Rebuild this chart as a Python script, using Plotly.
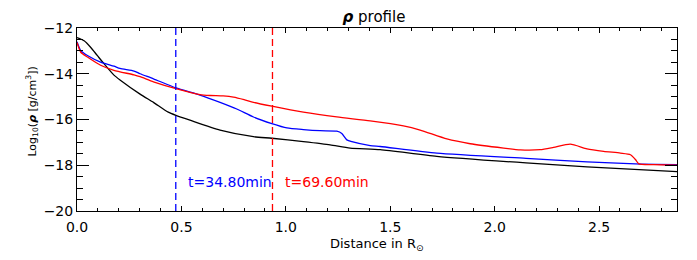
import plotly.graph_objects as go

# Distance (R_sun) and log10 density values
x_black = [0.0, 0.034, 0.066, 0.097, 0.129, 0.177, 0.206, 0.302, 0.366, 0.437, 0.474, 0.541, 0.685, 0.845, 0.933, 1.084, 1.212, 1.308, 1.452, 1.723, 2.15, 2.442, 2.873]
y_black = [-12.42, -12.56, -12.85, -13.2, -13.56, -14.06, -14.27, -14.89, -15.25, -15.68, -15.82, -16.03, -16.46, -16.75, -16.82, -16.97, -17.11, -17.25, -17.32, -17.61, -17.9, -18.07, -18.28]

x_blue = [0.0, 0.018, 0.05, 0.113, 0.177, 0.206, 0.273, 0.302, 0.366, 0.474, 0.589, 0.685, 0.765, 0.845, 0.933, 1.005, 1.084, 1.164, 1.244, 1.268, 1.292, 1.316, 1.404, 1.452, 1.723, 2.15, 2.442, 2.674, 2.873]
y_blue = [-12.6, -12.99, -13.2, -13.49, -13.67, -13.77, -13.88, -14.0, -14.22, -14.62, -14.93, -15.25, -15.54, -15.89, -16.18, -16.37, -16.44, -16.49, -16.51, -16.61, -16.89, -16.97, -17.14, -17.18, -17.47, -17.7, -17.85, -17.94, -17.97]

x_red = [0.0, 0.018, 0.05, 0.113, 0.177, 0.273, 0.302, 0.366, 0.474, 0.589, 0.637, 0.7, 0.749, 0.8, 0.845, 0.933, 1.084, 1.244, 1.404, 1.563, 1.643, 1.771, 1.883, 2.043, 2.123, 2.218, 2.282, 2.362, 2.442, 2.522, 2.602, 2.65, 2.674, 2.69, 2.761, 2.873]
y_red = [-12.63, -13.06, -13.27, -13.63, -13.85, -14.05, -14.13, -14.35, -14.65, -14.91, -14.95, -14.97, -15.02, -15.13, -15.25, -15.42, -15.68, -15.89, -16.06, -16.28, -16.46, -16.85, -17.06, -17.25, -17.33, -17.32, -17.22, -17.08, -17.28, -17.39, -17.47, -17.54, -17.75, -17.94, -17.97, -18.0]

t_blue_pos = 0.473
t_red_pos = 0.936
label_blue = "t=34.80min"
label_red = "t=69.60min"

x_range = [0.0, 2.873]
y_range = [-20.0, -12.0]

FONT = "DejaVu Sans"
fig = go.Figure()

for xs, ys, col in [(x_black, y_black, "black"), (x_blue, y_blue, "#0000ff"), (x_red, y_red, "#ff0000")]:
    fig.add_trace(go.Scatter(x=xs, y=ys, mode="lines", line=dict(color=col, width=1.3, shape="spline", smoothing=0.6),
                             showlegend=False, hoverinfo="skip"))

for xp, col in [(t_blue_pos, "#0000ff"), (t_red_pos, "#ff0000")]:
    fig.add_trace(go.Scatter(x=[xp, xp], y=y_range, mode="lines", line=dict(color=col, width=1.3, dash="7px,4px"),
                             showlegend=False, hoverinfo="skip"))

fig.add_annotation(x=0.52, y=-18.75, xref="x", yref="y", text=label_blue, showarrow=False, xanchor="left",
                   font=dict(family=FONT, size=14, color="#0000ff"))
fig.add_annotation(x=0.985, y=-18.75, xref="x", yref="y", text=label_red, showarrow=False, xanchor="left",
                   font=dict(family=FONT, size=14, color="#ff0000"))

fig.add_annotation(x=-0.0917, y=0.543, xref="paper", yref="paper", textangle=-90, showarrow=False,
                   text="Log<sub>10</sub>(<b><i>ρ</i></b> [g/cm<sup>3</sup>])", font=dict(family=FONT, size=11, color="black"))
fig.add_annotation(x=0.5, y=-0.185, xref="paper", yref="paper", showarrow=False, yanchor="middle",
                   text="Distance in R<sub>⊙</sub>", font=dict(family=FONT, size=13, color="black"))

axis_common = dict(showline=True, linecolor="black", linewidth=1, mirror="allticks", ticks="inside",
                   showgrid=False, zeroline=False, tickcolor="black", tickfont=dict(family=FONT, size=14, color="black"))

fig.update_xaxes(range=x_range, dtick=0.5, tick0=0, tickformat=".1f", ticklen=5, tickwidth=1, ticklabelstandoff=3,
                 minor=dict(dtick=0.1, ticks="inside", ticklen=3, tickcolor="black"), **axis_common)
fig.update_yaxes(range=y_range, dtick=2, tick0=-20, ticklen=12, tickwidth=1,
                 minor=dict(dtick=0.5, ticks="inside", ticklen=6, tickcolor="black"), **axis_common)

# The page body adds an 8px offset, so the figure is sized to fit inside the window
fig.update_layout(
    width=689, height=252,
    margin=dict(l=69, r=20, t=16, b=49),
    paper_bgcolor="white", plot_bgcolor="white",
    title=dict(text="<b><i>ρ</i></b> profile", x=0.495, xref="paper", xanchor="center", y=1 - 8.5 / 252, yref="container",
               yanchor="middle", font=dict(family=FONT, size=15, color="black")),
)

fig.write_html("out.html")
